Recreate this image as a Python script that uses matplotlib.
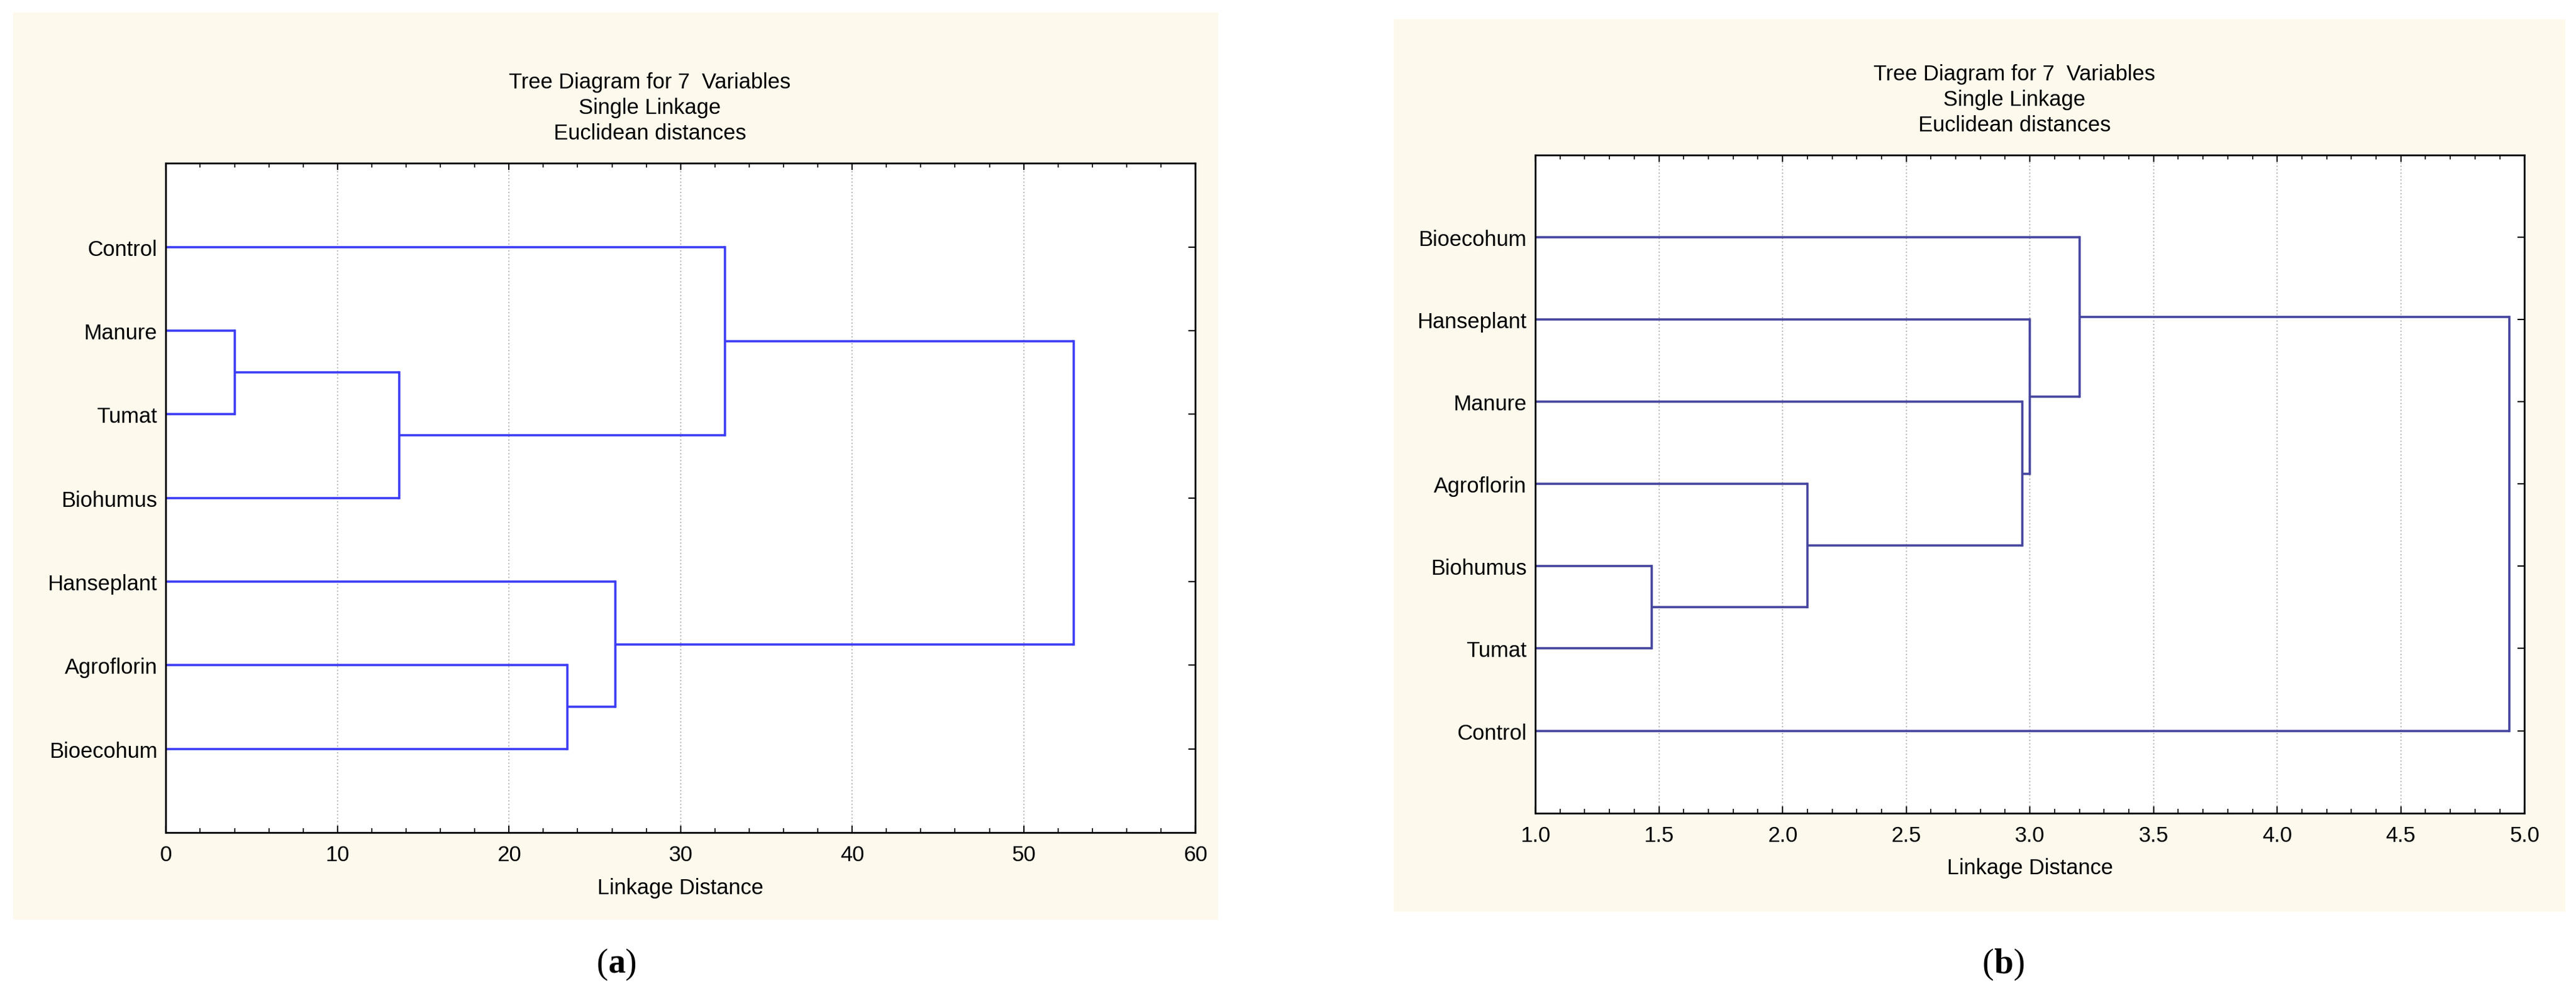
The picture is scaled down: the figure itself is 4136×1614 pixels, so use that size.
import matplotlib
matplotlib.use("Agg")
import matplotlib.pyplot as plt
from matplotlib.patches import Rectangle
from matplotlib.ticker import MultipleLocator

plt.rcParams['font.family'] = ['Liberation Sans', 'DejaVu Sans']

# Panel (a): leaf order top->bottom, merges (left, right, distance); "cK" = cluster from merge K
leaves_a = ["Control", "Manure", "Tumat", "Biohumus", "Hanseplant", "Agroflorin", "Bioecohum"]
merge_left_a = ["Manure", "c0", "Agroflorin", "Hanseplant", "Control", "c3"]
merge_right_a = ["Tumat", "Biohumus", "Bioecohum", "c2", "c1", "c4"]
merge_dist_a = [4.0, 13.6, 23.4, 26.2, 32.6, 52.9]

leaves_b = ["Bioecohum", "Hanseplant", "Manure", "Agroflorin", "Biohumus", "Tumat", "Control"]
merge_left_b = ["Biohumus", "Agroflorin", "Manure", "Hanseplant", "Bioecohum", "c4"]
merge_right_b = ["Tumat", "c0", "c1", "c2", "c3", "Control"]
merge_dist_b = [1.47, 2.10, 2.97, 3.00, 3.20, 4.94]

title = "Tree Diagram for 7  Variables\nSingle Linkage\nEuclidean distances"
fig = plt.figure(figsize=(41.36, 16.15), dpi=100)
cream = '#fdf9ec'

def panel(rect_bg, rect_ax, leaves, ml, mr, md, xmin, xmax, xmajor, xminor, color, lab, labx, xlim0):
    fig.patches.append(Rectangle(rect_bg[:2], rect_bg[2], rect_bg[3], transform=fig.transFigure,
                                 facecolor=cream, edgecolor='none', zorder=-5))
    ax = fig.add_axes(rect_ax, zorder=2)
    ax.set_facecolor('white')
    ypos = {name: i + 1 for i, name in enumerate(leaves)}
    xpos = {name: xlim0 for name in leaves}
    for k, (l, r, d) in enumerate(zip(ml, mr, md)):
        for c in (l, r):
            ax.plot([xpos[c], d], [ypos[c], ypos[c]], color=color, lw=2.6, solid_capstyle='butt')
        ax.plot([d, d], [ypos[l], ypos[r]], color=color, lw=2.6)
        key = "c%d" % k
        ypos[key] = (ypos[l] + ypos[r]) / 2
        xpos[key] = d
    ax.set_xlim(xmin, xmax)
    ax.set_ylim(len(leaves) + 1, 0)
    ax.set_yticks(range(1, len(leaves) + 1))
    ax.set_yticklabels(leaves, fontsize=25)
    ax.xaxis.set_major_locator(MultipleLocator(xmajor))
    ax.xaxis.set_minor_locator(MultipleLocator(xminor))
    if xmajor < 1:
        ax.xaxis.set_major_formatter(matplotlib.ticker.FormatStrFormatter('%.1f'))
    ax.tick_params(axis='x', which='both', direction='in', top=True, labelsize=25, pad=14)
    ax.tick_params(axis='x', which='major', length=8, width=1.5)
    ax.tick_params(axis='x', which='minor', length=5, width=1.2)
    ax.tick_params(axis='y', direction='in', right=True, length=8, width=1.5, labelsize=25, pad=10)
    ax.grid(axis='x', which='major', color='#bbbbbb', linestyle=':', lw=1.5)
    ax.set_axisbelow(True)
    for s in ax.spines.values():
        s.set_linewidth(2)
    ax.set_xlabel("Linkage Distance", fontsize=25, labelpad=14)
    cx = rect_ax[0] + rect_ax[2] / 2
    fig.text(cx - 0.012 if lab == 'a' else cx - 0.006, rect_ax[1] + rect_ax[3] + 0.02, title,
             ha='center', va='bottom', fontsize=25, linespacing=1.3)
    fig.text(labx, 0.025, "(", fontsize=40, family='Liberation Serif', ha='right', va='bottom')
    fig.text(labx, 0.025, lab, fontsize=40, family='Liberation Serif', fontweight='bold', ha='left', va='bottom')
    fig.text(labx + (0.0065 if lab == 'a' else 0.0075), 0.025, ")", fontsize=40, family='Liberation Serif', ha='left', va='bottom')
    return ax

panel([0.005, 0.085, 0.468, 0.902], [0.0644, 0.1716, 0.3996, 0.6654],
      leaves_a, merge_left_a, merge_right_a, merge_dist_a, 0, 60, 10, 2,
      '#3c3cf5', 'a', 0.236, 0)
panel([0.541, 0.093, 0.455, 0.887], [0.596, 0.191, 0.384, 0.654],
      leaves_b, merge_left_b, merge_right_b, merge_dist_b, 1.0, 5.0, 0.5, 0.1,
      '#45459f', 'b', 0.774, 1.0)

fig.savefig("out.png", dpi=100, facecolor='white')
